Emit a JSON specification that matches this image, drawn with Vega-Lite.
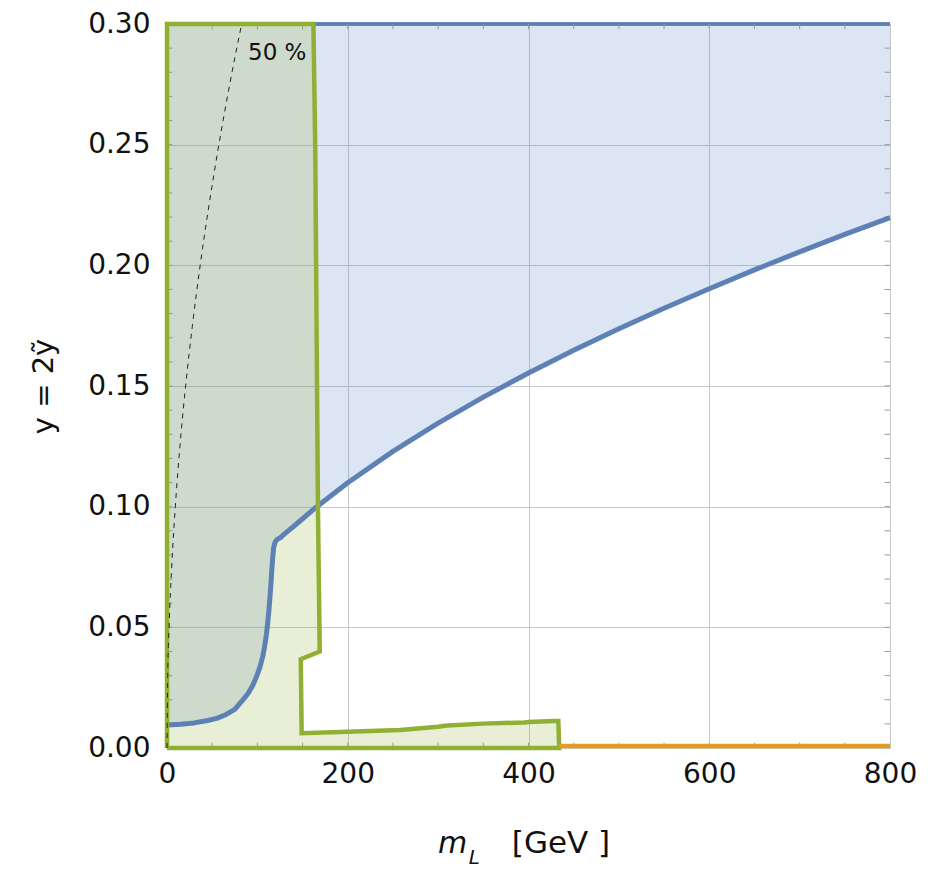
{
  "$schema": "https://vega.github.io/schema/vega-lite/v6.json",
  "autosize": {"type": "none"},
  "width": 723,
  "height": 724,
  "padding": {"left": 167, "top": 24, "right": 49, "bottom": 121},
  "background": "white",
  "config": {
    "view": {"stroke": "#a8a8a8", "strokeWidth": 1},
    "font": "DejaVu Sans"
  },
  "datasets": {
    "blue": [
      {"x": 0, "y": 0.0095}, {"x": 15, "y": 0.0098}, {"x": 30, "y": 0.0104}, {"x": 45, "y": 0.0114},
      {"x": 55, "y": 0.0123}, {"x": 65, "y": 0.0138}, {"x": 75, "y": 0.0160}, {"x": 84, "y": 0.0199},
      {"x": 90, "y": 0.0228}, {"x": 95, "y": 0.0260}, {"x": 100, "y": 0.0305}, {"x": 103, "y": 0.0337},
      {"x": 106, "y": 0.0380}, {"x": 108, "y": 0.0420}, {"x": 110, "y": 0.0470}, {"x": 111.5, "y": 0.0520},
      {"x": 113, "y": 0.0580}, {"x": 114, "y": 0.0630}, {"x": 115, "y": 0.0680}, {"x": 116, "y": 0.0740},
      {"x": 117, "y": 0.0790}, {"x": 118, "y": 0.0830}, {"x": 119.5, "y": 0.0852}, {"x": 121, "y": 0.0861},
      {"x": 123, "y": 0.0867}, {"x": 125, "y": 0.0870}, {"x": 130, "y": 0.0887}, {"x": 140, "y": 0.0918},
      {"x": 150, "y": 0.0950}, {"x": 165, "y": 0.0998}, {"x": 200, "y": 0.1099}, {"x": 250, "y": 0.1229},
      {"x": 300, "y": 0.1346}, {"x": 350, "y": 0.1454}, {"x": 400, "y": 0.1554}, {"x": 450, "y": 0.1648},
      {"x": 500, "y": 0.1737}, {"x": 550, "y": 0.1822}, {"x": 600, "y": 0.1903}, {"x": 650, "y": 0.1981},
      {"x": 700, "y": 0.2056}, {"x": 750, "y": 0.2128}, {"x": 800, "y": 0.2198}
    ],
    "green": [
      {"i": 0, "x": 0, "y": 0}, {"i": 1, "x": 0, "y": 0.30}, {"i": 2, "x": 162, "y": 0.30},
      {"i": 3, "x": 164, "y": 0.25}, {"i": 4, "x": 165, "y": 0.20}, {"i": 5, "x": 166, "y": 0.15},
      {"i": 6, "x": 167, "y": 0.10}, {"i": 7, "x": 168, "y": 0.07}, {"i": 8, "x": 169, "y": 0.040},
      {"i": 9, "x": 148, "y": 0.0368}, {"i": 10, "x": 149, "y": 0.0061}, {"i": 11, "x": 200, "y": 0.0067},
      {"i": 12, "x": 258, "y": 0.0075}, {"i": 13, "x": 300, "y": 0.0088}, {"i": 14, "x": 310, "y": 0.0093},
      {"i": 15, "x": 350, "y": 0.0101}, {"i": 16, "x": 395, "y": 0.0106}, {"i": 17, "x": 400, "y": 0.0108},
      {"i": 18, "x": 428, "y": 0.0112}, {"i": 19, "x": 433, "y": 0.0112}, {"i": 20, "x": 434, "y": 0},
      {"i": 21, "x": 0, "y": 0}
    ],
    "dash": [
      {"x": 0, "y": 0}, {"x": 0.8, "y": 0.03}, {"x": 2.3, "y": 0.05}, {"x": 5.2, "y": 0.075},
      {"x": 9.2, "y": 0.10}, {"x": 14.3, "y": 0.125}, {"x": 20.6, "y": 0.15}, {"x": 28.1, "y": 0.175},
      {"x": 36.7, "y": 0.20}, {"x": 46.5, "y": 0.225}, {"x": 57.4, "y": 0.25}, {"x": 69.4, "y": 0.275},
      {"x": 82.6, "y": 0.30}
    ],
    "orange": [{"x": 434, "y": 0.0008}, {"x": 800, "y": 0.0008}],
    "xminor": [
      {"v": 50}, {"v": 100}, {"v": 150}, {"v": 200}, {"v": 250}, {"v": 300}, {"v": 350}, {"v": 400},
      {"v": 450}, {"v": 500}, {"v": 550}, {"v": 600}, {"v": 650}, {"v": 700}, {"v": 750}
    ],
    "yminor": [
      {"v": 0.01}, {"v": 0.02}, {"v": 0.03}, {"v": 0.04}, {"v": 0.05}, {"v": 0.06}, {"v": 0.07}, {"v": 0.08},
      {"v": 0.09}, {"v": 0.10}, {"v": 0.11}, {"v": 0.12}, {"v": 0.13}, {"v": 0.14}, {"v": 0.15}, {"v": 0.16},
      {"v": 0.17}, {"v": 0.18}, {"v": 0.19}, {"v": 0.20}, {"v": 0.21}, {"v": 0.22}, {"v": 0.23}, {"v": 0.24},
      {"v": 0.25}, {"v": 0.26}, {"v": 0.27}, {"v": 0.28}, {"v": 0.29}
    ],
    "tm": [{"x": 316, "y": -0.0437, "t": "m"}],
    "tl": [{"x": 340, "y": -0.0480, "t": "L"}],
    "tu": [{"x": 436, "y": -0.0437, "t": "[GeV ]"}],
    "label": [{"x": 122, "y": 0.2851, "t": "50 %"}]
  },
  "layer": [
    {
      "data": {"name": "blue"},
      "mark": {"type": "area", "fill": "#4F7FC4", "fillOpacity": 0.2, "strokeWidth": 0},
      "encoding": {
        "x": {
          "field": "x", "type": "quantitative",
          "scale": {"domain": [0, 800], "nice": false},
          "axis": {
            "values": [0, 200, 400, 600, 800], "format": "d", "title": null,
            "labelFontSize": 28, "labelColor": "#111", "labelPadding": 12, "labelFlush": false,
            "ticks": false, "domain": false, "gridColor": "#c8c8c8", "gridWidth": 1
          }
        },
        "y": {
          "field": "y", "type": "quantitative",
          "scale": {"domain": [0, 0.3], "nice": false},
          "axis": {
            "values": [0, 0.05, 0.1, 0.15, 0.2, 0.25, 0.3], "format": ".2f",
            "title": "y = 2ỹ", "titleFontSize": 29, "titleFontWeight": "normal", "titleColor": "#111",
            "titlePadding": 29, "labelFontSize": 28, "labelColor": "#111", "labelPadding": 17, "labelFlush": false,
            "ticks": false, "domain": false, "gridColor": "#c8c8c8", "gridWidth": 1
          }
        },
        "y2": {"datum": 0.3}
      }
    },
    {
      "data": {"name": "orange"},
      "mark": {"type": "rule", "stroke": "#5E81B5", "strokeWidth": 3.5},
      "encoding": {"x": {"datum": 0}, "x2": {"datum": 800}, "y": {"datum": 0.3}}
    },
    {
      "data": {"name": "xminor"},
      "mark": {"type": "rule", "stroke": "#999999", "strokeWidth": 1},
      "encoding": {"x": {"field": "v", "type": "quantitative"}, "y": {"datum": 0}, "y2": {"datum": 0.0022}}
    },
    {
      "data": {"name": "xminor"},
      "mark": {"type": "rule", "stroke": "#999999", "strokeWidth": 1},
      "encoding": {"x": {"field": "v", "type": "quantitative"}, "y": {"datum": 0.3}, "y2": {"datum": 0.2978}}
    },
    {
      "data": {"name": "yminor"},
      "mark": {"type": "rule", "stroke": "#999999", "strokeWidth": 1},
      "encoding": {"y": {"field": "v", "type": "quantitative"}, "x": {"datum": 0}, "x2": {"datum": 6}}
    },
    {
      "data": {"name": "yminor"},
      "mark": {"type": "rule", "stroke": "#999999", "strokeWidth": 1},
      "encoding": {"y": {"field": "v", "type": "quantitative"}, "x": {"datum": 800}, "x2": {"datum": 794}}
    },
    {
      "data": {"name": "green"},
      "mark": {"type": "line", "strokeWidth": 0, "strokeOpacity": 0, "fill": "#8FB032", "fillOpacity": 0.2},
      "encoding": {
        "x": {"field": "x", "type": "quantitative"},
        "y": {"field": "y", "type": "quantitative"},
        "order": {"field": "i", "type": "quantitative"}
      }
    },
    {
      "data": {"name": "blue"},
      "mark": {"type": "line", "stroke": "#5E81B5", "strokeWidth": 5, "interpolate": "linear", "strokeJoin": "round"},
      "encoding": {"x": {"field": "x", "type": "quantitative"}, "y": {"field": "y", "type": "quantitative"}}
    },
    {
      "data": {"name": "green"},
      "mark": {"type": "line", "stroke": "#8FB032", "strokeWidth": 4.5, "strokeJoin": "miter"},
      "encoding": {
        "x": {"field": "x", "type": "quantitative"},
        "y": {"field": "y", "type": "quantitative"},
        "order": {"field": "i", "type": "quantitative"}
      }
    },
    {
      "data": {"name": "orange"},
      "mark": {"type": "line", "stroke": "#E19C24", "strokeWidth": 4.5},
      "encoding": {"x": {"field": "x", "type": "quantitative"}, "y": {"field": "y", "type": "quantitative"}}
    },
    {
      "data": {"name": "dash"},
      "mark": {"type": "line", "stroke": "#222222", "strokeWidth": 1, "strokeDash": [5, 5], "interpolate": "monotone"},
      "encoding": {
        "x": {"field": "x", "type": "quantitative"},
        "y": {"field": "y", "type": "quantitative"},
        "order": {"field": "y", "type": "quantitative"}
      }
    },
    {
      "data": {"name": "label"},
      "mark": {"type": "text", "fontSize": 23, "color": "#111", "baseline": "alphabetic", "align": "center"},
      "encoding": {
        "x": {"field": "x", "type": "quantitative"},
        "y": {"field": "y", "type": "quantitative"},
        "text": {"field": "t"}
      }
    },
    {
      "data": {"name": "tm"},
      "mark": {"type": "text", "fontSize": 30, "fontStyle": "italic", "color": "#111", "baseline": "alphabetic", "align": "center"},
      "encoding": {
        "x": {"field": "x", "type": "quantitative"},
        "y": {"field": "y", "type": "quantitative"},
        "text": {"field": "t"}
      }
    },
    {
      "data": {"name": "tl"},
      "mark": {"type": "text", "fontSize": 20, "fontStyle": "italic", "color": "#111", "baseline": "alphabetic", "align": "center"},
      "encoding": {
        "x": {"field": "x", "type": "quantitative"},
        "y": {"field": "y", "type": "quantitative"},
        "text": {"field": "t"}
      }
    },
    {
      "data": {"name": "tu"},
      "mark": {"type": "text", "fontSize": 31, "color": "#111", "baseline": "alphabetic", "align": "center"},
      "encoding": {
        "x": {"field": "x", "type": "quantitative"},
        "y": {"field": "y", "type": "quantitative"},
        "text": {"field": "t"}
      }
    }
  ]
}
